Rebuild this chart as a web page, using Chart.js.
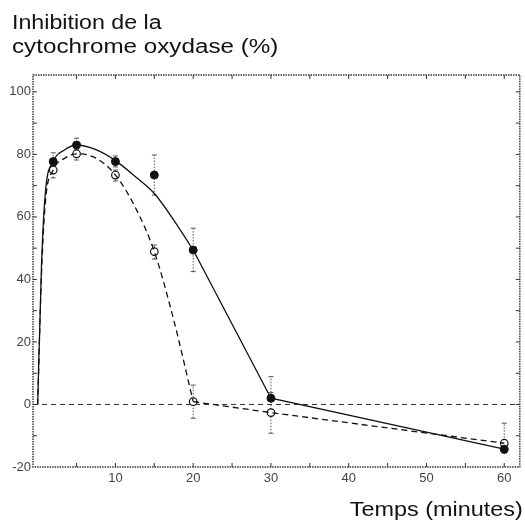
<!DOCTYPE html>
<html lang="fr">
<head>
<meta charset="UTF-8">
<title>Inhibition de la cytochrome oxydase</title>
<script src="https://cdn.jsdelivr.net/npm/chart.js@4.4.0/dist/chart.umd.min.js"></script>
<style>
    body { margin: 0; background: #fff; }
    .wrap { position: relative; width: 525px; height: 520px; }
    .txt {
        position: absolute;
        font-family: 'Liberation Sans', Arial, sans-serif;
        font-size: 20px;
        line-height: 20px;
        color: #111;
        white-space: nowrap;
    }
    .title { left: 12px; transform-origin: left; }
    .xlab { right: 2px; top: 499px; transform: scaleX(1.17); transform-origin: right; }
</style>
</head>
<body>
<div class="wrap">
    <canvas id="chart" width="525" height="520"></canvas>
    <div class="txt title" style="top:12px; transform:scaleX(1.16)">Inhibition de la</div>
    <div class="txt title" style="top:36px; transform:scaleX(1.21)">cytochrome oxydase (%)</div>
    <div class="txt xlab">Temps (minutes)</div>
</div>
<script>
    // measured points (minutes)
    const times = [2, 5, 10, 15, 20, 30, 60];
    const filledValues = [77.7, 83, 77.7, 73.4, 49.4, 2.0, -14.3];
    const filledHi = [80.5, 85.2, 79.5, 79.8, 56.4, 8.9, -13.5];
    const filledLo = [75.5, 81, 76, 67, 42.5, 2.0, -15.6];
    const openValues = [75, 80.2, 73.4, 48.9, 0.9, -2.6, -12.4];
    const openHi = [76.5, 81.5, 75, 51, 6.2, 3.8, -6.0];
    const openLo = [72.5, 78.2, 71.5, 46.5, -4.4, -9.2, -13.5];

    // fitted curves as drawn
    const solidCurveT = [0, 0.5, 1, 2, 3.5, 5, 7.5, 10, 12.5, 15, 17.5, 20];
    const solidCurveY = [0, 45, 68, 77.7, 81.5, 83, 81.5, 78, 73, 67.5, 59, 49.4];
    const solidTailT = [20, 30, 60];
    const solidTailY = [49.4, 2.0, -14.3];
    const dashedCurveT = [0, 0.5, 1, 2, 3.5, 5, 7.5, 10, 12.5, 15, 17.5, 20];
    const dashedCurveY = [0, 42, 65, 75, 78.8, 80.2, 78.8, 73.4, 63.3, 48.9, 27, 0.9];
    const dashedTailT = [20, 30, 60];
    const dashedTailY = [0.9, -2.6, -12.4];

    // axes
    const xLabelTicks = [10, 20, 30, 40, 50, 60];
    const yLabelTicks = [-20, 0, 20, 40, 60, 80, 100];
    const xMinorTicks = [5, 10, 15, 20, 25, 30, 35, 40, 45, 50, 55, 60];
    const yMinorTicks = [-10, 0, 10, 20, 30, 40, 50, 60, 70, 80, 90, 100];

    const pts = (xs, ys) => xs.map((t, i) => ({ x: t, y: ys[i] }));

    function line(ctx, x1, y1, x2, y2) {
        ctx.beginPath();
        ctx.moveTo(x1, y1);
        ctx.lineTo(x2, y2);
        ctx.stroke();
    }

    const framePlugin = {
        id: 'frame',
        beforeDatasetsDraw(chart) {
            const { ctx, chartArea: a, scales: { x, y } } = chart;
            ctx.save();
            // dashed zero line
            ctx.strokeStyle = '#333';
            ctx.lineWidth = 1;
            ctx.setLineDash([5, 4]);
            const y0 = y.getPixelForValue(0);
            line(ctx, a.left, y0, a.right, y0);
            // dotted frame
            ctx.setLineDash([1.5, 1]);
            ctx.lineWidth = 1.4;
            ctx.strokeRect(a.left, a.top, a.right - a.left, a.bottom - a.top);
            // inward ticks
            ctx.setLineDash([]);
            ctx.lineWidth = 1;
            xMinorTicks.forEach(v => {
                const px = x.getPixelForValue(v);
                line(ctx, px, a.bottom, px, a.bottom - 4);
                line(ctx, px, a.top, px, a.top + 4);
            });
            yMinorTicks.forEach(v => {
                const py = y.getPixelForValue(v);
                line(ctx, a.left, py, a.left + 4, py);
                line(ctx, a.right, py, a.right - 4, py);
            });
            // error bars
            const bars = (lo, hi) => {
                times.forEach((t, i) => {
                    const px = x.getPixelForValue(t);
                    const pl = y.getPixelForValue(lo[i]);
                    const ph = y.getPixelForValue(hi[i]);
                    ctx.setLineDash([1.5, 1.5]);
                    line(ctx, px, pl, px, ph);
                    ctx.setLineDash([]);
                    line(ctx, px - 2.5, pl, px + 2.5, pl);
                    line(ctx, px - 2.5, ph, px + 2.5, ph);
                });
            };
            ctx.strokeStyle = '#555';
            bars(filledLo, filledHi);
            bars(openLo, openHi);
            ctx.restore();
        }
    };

    const lineStyle = {
        showLine: true,
        borderColor: '#111',
        borderWidth: 1.3,
        pointRadius: 0,
        fill: false
    };

    new Chart(document.getElementById('chart'), {
        type: 'scatter',
        data: {
            datasets: [
                Object.assign({ data: pts(solidCurveT, solidCurveY), cubicInterpolationMode: 'monotone' }, lineStyle),
                Object.assign({ data: pts(solidTailT, solidTailY), tension: 0 }, lineStyle),
                Object.assign({ data: pts(dashedCurveT, dashedCurveY), cubicInterpolationMode: 'monotone', borderDash: [6, 4] }, lineStyle),
                Object.assign({ data: pts(dashedTailT, dashedTailY), tension: 0, borderDash: [6, 4] }, lineStyle),
                {
                    data: pts(times, filledValues),
                    pointRadius: 4,
                    pointBackgroundColor: '#111',
                    pointBorderColor: '#111',
                    pointBorderWidth: 1
                },
                {
                    data: pts(times, openValues),
                    pointRadius: 3.8,
                    pointBackgroundColor: '#fff',
                    pointBorderColor: '#111',
                    pointBorderWidth: 1.2
                }
            ]
        },
        options: {
            responsive: false,
            animation: false,
            layout: { padding: { left: 0, top: 75, right: 5, bottom: 0 } },
            plugins: { legend: { display: false }, tooltip: { enabled: false } },
            scales: {
                x: {
                    type: 'linear',
                    min: -0.6,
                    max: 62,
                    grid: { display: false, drawTicks: false },
                    border: { display: false },
                    afterBuildTicks: s => { s.ticks = xLabelTicks.map(v => ({ value: v })); },
                    afterFit: s => { s.height = 53; },
                    ticks: {
                        padding: 4,
                        color: '#444',
                        font: { family: "'Liberation Sans', Arial, sans-serif", size: 13 },
                        maxRotation: 0
                    }
                },
                y: {
                    min: -20,
                    max: 105.4,
                    grid: { display: false, drawTicks: false },
                    border: { display: false },
                    afterBuildTicks: s => { s.ticks = yLabelTicks.map(v => ({ value: v })); },
                    afterFit: s => { s.width = 33; },
                    ticks: {
                        padding: 2,
                        color: '#444',
                        font: { family: "'Liberation Sans', Arial, sans-serif", size: 13 }
                    }
                }
            }
        },
        plugins: [framePlugin]
    });
</script>
</body>
</html>
